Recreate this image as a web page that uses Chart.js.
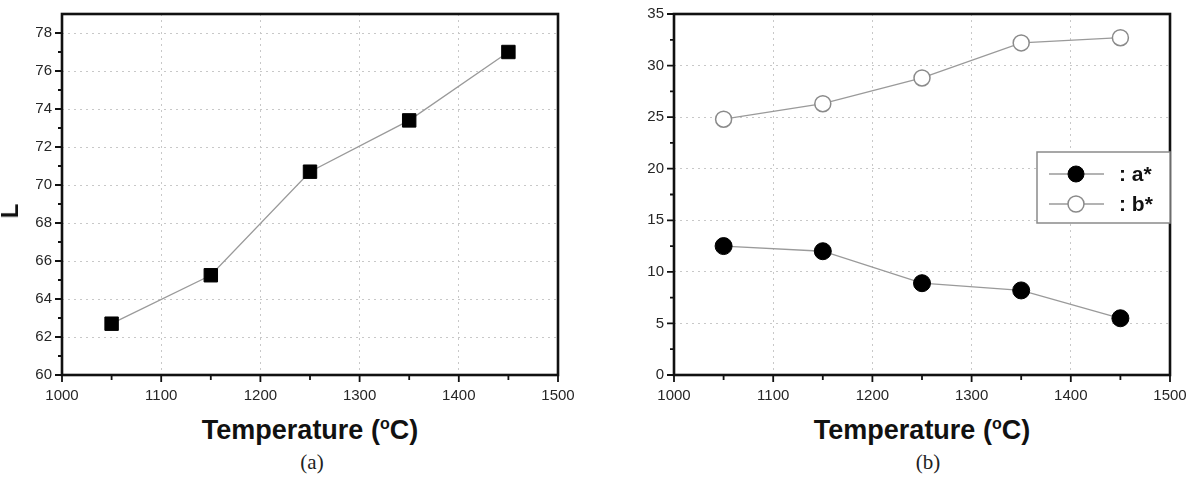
<!DOCTYPE html>
<html>
<head>
<meta charset="utf-8">
<script src="https://cdn.jsdelivr.net/npm/chart.js@4"></script>
<style>
    body { margin: 0; background: #fff; width: 1193px; height: 480px; position: relative; overflow: hidden; }
    .box { position: absolute; top: 0; height: 400px; }
    .xtitle { position: absolute; font-family: "Liberation Sans", Arial, sans-serif; font-weight: bold; font-size: 27px; line-height: 1; white-space: nowrap; transform: translateX(-50%); color: #111; }
    .xtitle sup { font-size: 16px; position: relative; top: -1px; vertical-align: top; }
    .ytitle { position: absolute; font-family: "Liberation Sans", Arial, sans-serif; font-weight: bold; font-size: 24px; line-height: 1; color: #111; transform: translate(-50%, -50%) rotate(-90deg); }
    .cap { position: absolute; font-family: "Liberation Serif", "Times New Roman", serif; font-size: 21px; line-height: 1; transform: translateX(-50%); color: #222; }
</style>
</head>
<body>
<div class="box" style="left:0;width:580px"><canvas id="chartL"></canvas></div>
<div class="box" style="left:600px;width:593px"><canvas id="chartAB"></canvas></div>
<div class="ytitle" style="left:10px;top:211px">L</div>
<div class="xtitle" style="left:310px;top:417px">Temperature (<sup>o</sup>C)</div>
<div class="xtitle" style="left:922px;top:417px">Temperature (<sup>o</sup>C)</div>
<div class="cap" style="left:312px;top:452px">(a)</div>
<div class="cap" style="left:928px;top:452px">(b)</div>
<script>
// data ===============================================================
const temps = [1050, 1150, 1250, 1350, 1450];
const L_values = [62.7, 65.25, 70.7, 73.4, 77.0];
const a_values = [12.5, 12.0, 8.9, 8.2, 5.5];
const b_values = [24.8, 26.3, 28.8, 32.2, 32.7];
const x_ticks = [1000, 1100, 1200, 1300, 1400, 1500];
const L_ticks = [60, 62, 64, 66, 68, 70, 72, 74, 76, 78];
const ab_ticks = [0, 5, 10, 15, 20, 25, 30, 35];

const tickFont = { family: "'Liberation Sans', Arial, sans-serif", size: 15 };
const tickColor = '#262626';

// frame + major/minor tick marks ======================================
function frameTicks(_width, _color) {
    const plugin = {
        id: 'frameTicks',
        afterDraw(chart) {
            const { ctx, chartArea: { left, top, right, bottom } } = chart;
            const xs = chart.scales.x, ys = chart.scales.y;
            ctx.save();
            ctx.strokeStyle = _color;
            ctx.lineWidth = 1.8;
            ctx.beginPath();
            let yt = ys.ticks.map(t => t.value);
            yt.forEach((v, i) => {
                let y = ys.getPixelForValue(v);
                ctx.moveTo(left - 7, y); ctx.lineTo(left, y);
                if (i < yt.length - 1) {
                    let ym = ys.getPixelForValue((v + yt[i + 1]) / 2);
                    ctx.moveTo(left - 4, ym); ctx.lineTo(left, ym);
                }
            });
            let xt = xs.ticks.map(t => t.value);
            xt.forEach((v, i) => {
                let x = xs.getPixelForValue(v);
                ctx.moveTo(x, bottom); ctx.lineTo(x, bottom + 7);
                if (i < xt.length - 1) {
                    let xm = xs.getPixelForValue((v + xt[i + 1]) / 2);
                    ctx.moveTo(xm, bottom); ctx.lineTo(xm, bottom + 5);
                }
            });
            ctx.stroke();
            ctx.lineWidth = _width;
            ctx.strokeRect(left, top, right - left, bottom - top);
            ctx.restore();
        }
    };
    return plugin
};

// legend inside the plot ===============================================
function boxLegend() {
    const plugin = {
        id: 'boxLegend',
        afterDraw(chart) {
            const { ctx, chartArea: { right } } = chart;
            const sets = chart.data.datasets;
            const bx = right - 133, by = 152, bw = 133, bh = 71;
            ctx.save();
            ctx.fillStyle = '#fff';
            ctx.fillRect(bx, by, bw, bh);
            ctx.strokeStyle = '#8a8a8a';
            ctx.lineWidth = 1.5;
            ctx.strokeRect(bx, by, bw, bh);
            sets.forEach((ds, i) => {
                let y = by + 22 + i * 30;
                ctx.strokeStyle = ds.borderColor;
                ctx.lineWidth = 1.3;
                ctx.beginPath();
                ctx.moveTo(bx + 12, y); ctx.lineTo(bx + 67, y);
                ctx.stroke();
                ctx.beginPath();
                ctx.arc(bx + 39, y, 8, 0, Math.PI * 2);
                ctx.fillStyle = ds.pointBackgroundColor;
                ctx.fill();
                ctx.strokeStyle = ds.pointBorderColor;
                ctx.lineWidth = ds.pointBorderWidth;
                ctx.stroke();
                ctx.fillStyle = '#111';
                ctx.font = "bold 21px 'Liberation Sans', Arial, sans-serif";
                ctx.textBaseline = 'middle';
                ctx.fillText(': ' + ds.label, bx + 82, y + 1);
            });
            ctx.restore();
        }
    };
    return plugin
};

function xScale() {
    return {
        type: 'linear',
        min: 1000,
        max: 1500,
        afterBuildTicks: (s) => { s.ticks = x_ticks.map(v => ({ value: v })); },
        afterFit: (s) => { s.height = 25; s.paddingLeft = 0; s.paddingRight = 0; },
        ticks: { font: tickFont, color: tickColor, padding: 12, maxRotation: 0, callback: (v) => String(v) },
        grid: { color: '#c8c8c8', lineWidth: 1, drawTicks: false },
        border: { display: false, dash: [2, 4] },
    }
};

function yScale(ticks, min, max, width) {
    return {
        min: min,
        max: max,
        afterBuildTicks: (s) => { s.ticks = ticks.map(v => ({ value: v })); },
        afterFit: (s) => { s.width = width; s.paddingTop = 0; s.paddingBottom = 0; },
        ticks: { font: tickFont, color: tickColor, padding: 10, callback: (v) => String(v) },
        grid: { color: '#c8c8c8', lineWidth: 1, drawTicks: false },
        border: { display: false, dash: [2, 4] },
    }
};

function plot_L() {
    let ctx = document.getElementById('chartL');
    let data_L = {
        label: 'L',
        data: temps.map((t, i) => ({ x: t, y: L_values[i] })),
        borderColor: '#9a9a9a',
        borderWidth: 1.3,
        pointStyle: 'rect',
        pointRadius: 9.5,
        pointBackgroundColor: '#000',
        pointBorderColor: '#000',
        pointBorderWidth: 1,
        tension: 0,
    };
    new Chart(ctx, {
        type: 'line',
        data: { datasets: [data_L] },
        options: {
            responsive: true,
            maintainAspectRatio: false,
            animation: false,
            layout: { padding: { top: 14, right: 22, left: 0, bottom: 0 } },
            plugins: { legend: { display: false }, tooltip: { enabled: false } },
            scales: { x: xScale(), y: yScale(L_ticks, 60, 79, 62) },
        },
        plugins: [frameTicks(2.6, '#111')]
    });
}

function plot_ab() {
    let ctx = document.getElementById('chartAB');
    let data_a = {
        label: 'a*',
        data: temps.map((t, i) => ({ x: t, y: a_values[i] })),
        borderColor: '#9a9a9a',
        borderWidth: 1.3,
        pointRadius: 8.5,
        pointBackgroundColor: '#000',
        pointBorderColor: '#000',
        pointBorderWidth: 1,
    };
    let data_b = {
        label: 'b*',
        data: temps.map((t, i) => ({ x: t, y: b_values[i] })),
        borderColor: '#9a9a9a',
        borderWidth: 1.3,
        pointRadius: 8,
        pointBackgroundColor: '#fff',
        pointBorderColor: '#8a8a8a',
        pointBorderWidth: 1.5,
    };
    new Chart(ctx, {
        type: 'line',
        data: { datasets: [data_a, data_b] },
        options: {
            responsive: true,
            maintainAspectRatio: false,
            animation: false,
            layout: { padding: { top: 14, right: 23, left: 0, bottom: 0 } },
            plugins: { legend: { display: false }, tooltip: { enabled: false } },
            scales: { x: xScale(), y: yScale(ab_ticks, 0, 35, 74) },
        },
        plugins: [frameTicks(2.6, '#111'), boxLegend()]
    });
}

plot_L();
plot_ab();
</script>
</body>
</html>
